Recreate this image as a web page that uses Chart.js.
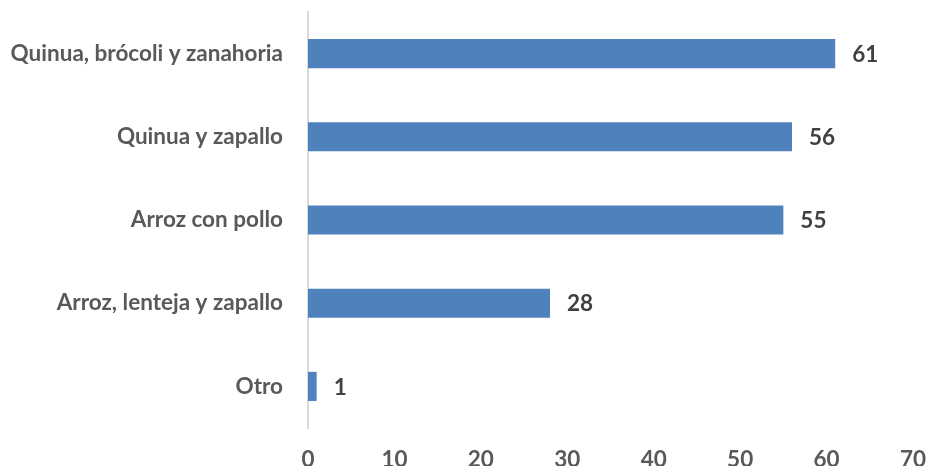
<!DOCTYPE html>
<html>
<head>
<meta charset="utf-8">
<script src="https://cdn.jsdelivr.net/npm/chart.js@4.4.1/dist/chart.umd.min.js"></script>
<style>
  html, body { margin: 0; padding: 0; background: #ffffff; }
  #wrap { width: 928px; height: 466px; }
</style>
</head>
<body>
<div id="wrap"><canvas id="chart"></canvas></div>
<script>
(function() {
  'use strict';

  var categories = [
    'Quinua, brócoli y zanahoria',
    'Quinua y zapallo',
    'Arroz con pollo',
    'Arroz, lenteja y zapallo',
    'Otro'
  ];
  var values = [61, 56, 55, 28, 1];
  var xTicks = [0, 10, 20, 30, 40, 50, 60, 70];

  var BLUE = '#4f81bd';
  var TICK_COLOR = '#595959';
  var LABEL_COLOR = '#404040';
  var FONT = "Lato, 'Open Sans', sans-serif";
  var FONT_SIZE = 22.5;

  // value labels at the end of each bar
  var valueLabels = {
    id: 'valueLabels',
    afterDatasetsDraw: function(chart) {
      var ctx = chart.ctx;
      var meta = chart.getDatasetMeta(0);
      ctx.save();
      ctx.font = 'bold ' + FONT_SIZE + 'px ' + FONT;
      ctx.fillStyle = LABEL_COLOR;
      ctx.textAlign = 'left';
      ctx.textBaseline = 'middle';
      meta.data.forEach(function(bar, i) {
        ctx.fillText(String(values[i]), bar.x + 17, bar.y + 1);
      });
      ctx.restore();
    }
  };

  new Chart(document.getElementById('chart'), {
    type: 'bar',
    data: {
      labels: categories,
      datasets: [{
        data: values,
        backgroundColor: BLUE,
        borderWidth: 0,
        barPercentage: 0.35,
        categoryPercentage: 1
      }]
    },
    options: {
      indexAxis: 'y',
      responsive: true,
      maintainAspectRatio: false,
      animation: false,
      layout: { padding: { top: 12, right: 15, bottom: 0, left: 0 } },
      plugins: {
        legend: { display: false },
        tooltip: { enabled: false }
      },
      scales: {
        x: {
          min: 0,
          max: 70,
          afterBuildTicks: function(scale) {
            scale.ticks = xTicks.map(function(v) { return { value: v }; });
          },
          afterFit: function(scale) {
            scale.height = 38;
            scale.paddingLeft = 0;
            scale.paddingRight = 0;
          },
          grid: { display: false, drawTicks: false },
          border: { display: false },
          ticks: {
            color: TICK_COLOR,
            padding: 18,
            maxRotation: 0,
            font: { family: FONT, size: FONT_SIZE, weight: 'bold' }
          }
        },
        y: {
          afterFit: function(scale) {
            scale.width = 308;
            scale.paddingTop = 0;
            scale.paddingBottom = 0;
          },
          grid: { display: false, drawTicks: false },
          border: { display: true, color: '#d9d9d9', width: 2 },
          ticks: {
            color: TICK_COLOR,
            padding: 25,
            font: { family: FONT, size: FONT_SIZE, weight: 'bold' }
          }
        }
      }
    },
    plugins: [valueLabels]
  });
})();
</script>
</body>
</html>
